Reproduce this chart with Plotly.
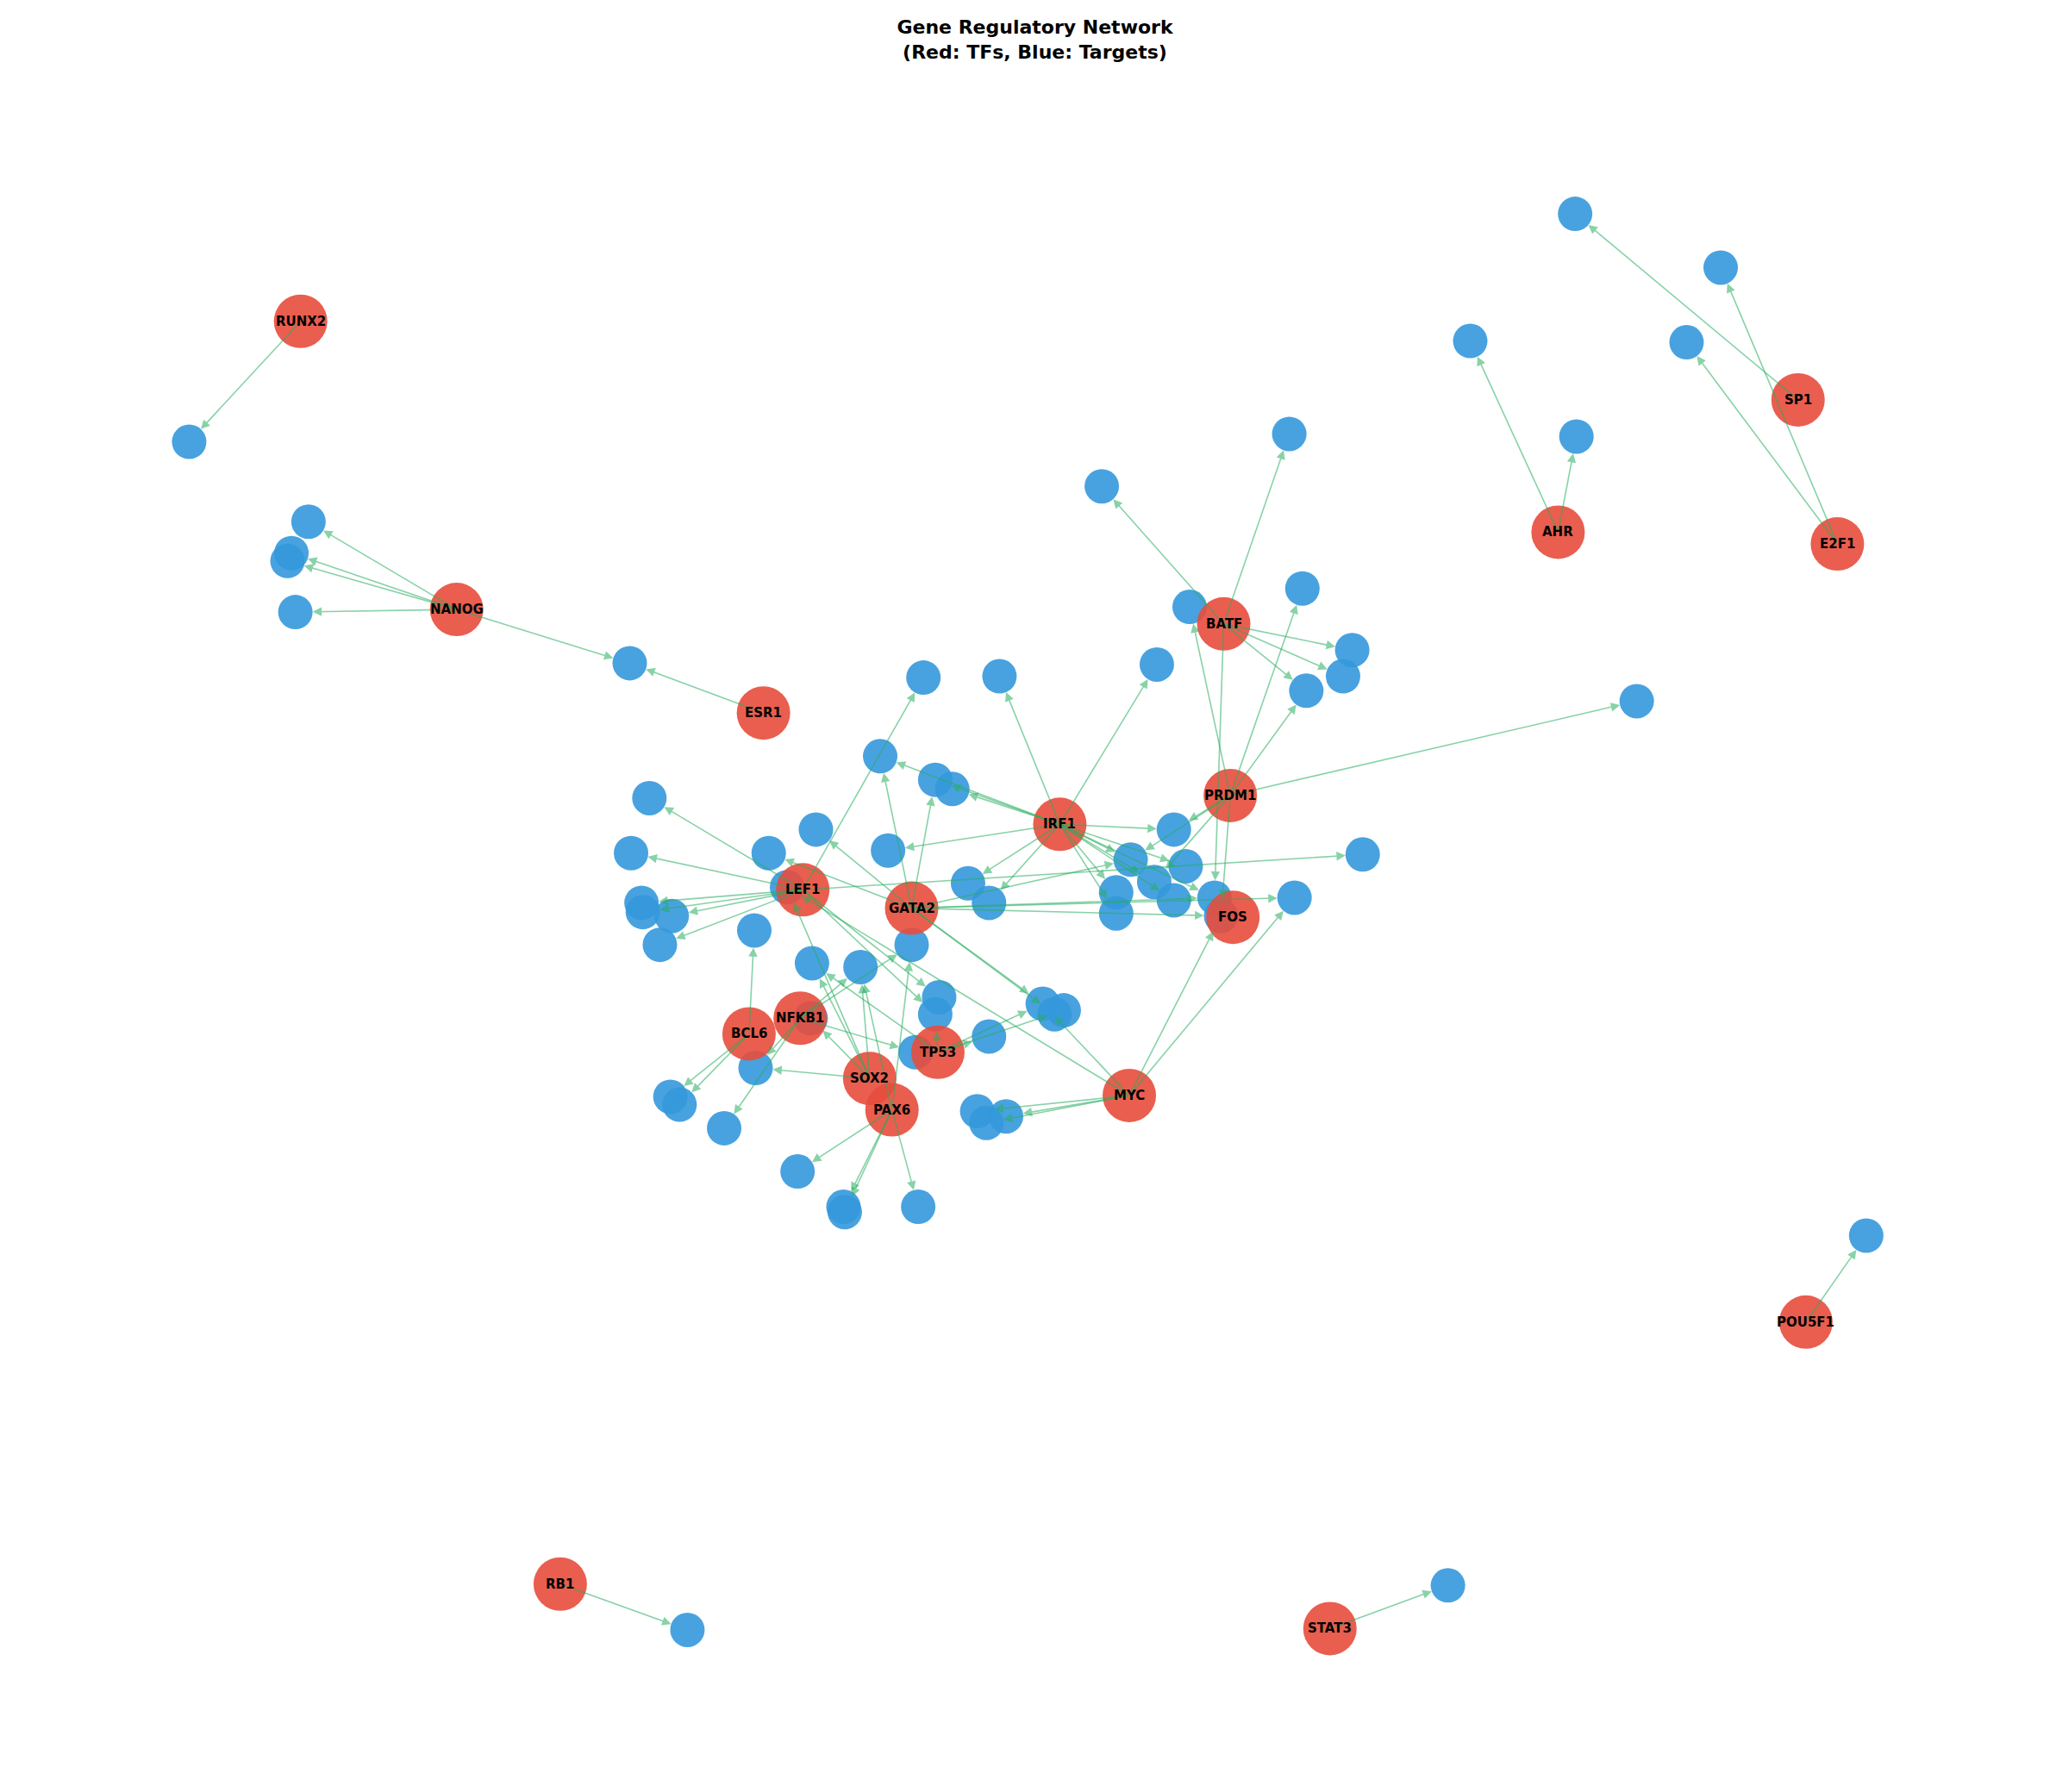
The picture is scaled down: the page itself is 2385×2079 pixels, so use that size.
import plotly.graph_objects as go

tf_names = ["RUNX2","NANOG","ESR1","IRF1","PRDM1","BATF","AHR","SP1","E2F1","LEF1","GATA2",
            "FOS","NFKB1","BCL6","TP53","SOX2","PAX6","MYC","POU5F1","RB1","STAT3"]
tf_x = [229,348,582,808,938,933,1188,1371,1401,612,695,940,610,571,715,663,680,861,1377,427,1014]
tf_y = [244,464,543,628,606,475,405,304,414,678,692,699,776,788,802,822,846,835,1008,1208,1242]

target_x = [144,235,222,219,225,480,1121,1202,1201,1312,1286,840,983,1031,1024,996,907,993,1248,762,
            882,704,671,713,726,495,481,586,622,677,895,862,904,880,895,851,851,926,987,1039,
            738,754,600,489,490,512,503,575,695,656,619,716,713,795,811,804,754,698,618,576,
            511,518,552,608,643,644,700,745,752,767,1423,524,1104,931]
target_y = [336,397,421,427,466,505,259,332,162,203,260,370,330,495,515,526,462,448,534,515,
            506,516,576,594,601,608,650,650,632,648,632,655,660,672,686,680,696,684,684,651,
            673,688,676,688,695,698,720,709,720,737,734,760,773,765,770,773,790,802,776,814,
            836,842,860,893,920,924,920,847,856,851,942,1243,1209,698]

edges = {
    "RUNX2": [0], "NANOG": [1,2,3,4,5], "ESR1": [5], "AHR": [6,7], "SP1": [8],
    "E2F1": [10,9], "BATF": [11,12,13,14,15,37], "PRDM1": [18,17,15,16,30,31,33,73],
    "IRF1": [19,20,22,23,24,29,30,40,41,31,33,34,32,35,37,36],
    "LEF1": [25,26,43,44,45,46,21,39,51,52],
    "GATA2": [27,28,22,23,37,38,73,31,53,55],
    "NFKB1": [49,48,57,62,59], "BCL6": [47,60,61],
    "SOX2": [59,50,49,58,42], "TP53": [50,54,53,52,56],
    "PAX6": [63,64,65,66,48,49], "MYC": [67,68,69,73,38,42,53],
    "POU5F1": [70], "RB1": [71], "STAT3": [72],
}

fig = go.Figure()
ann = []
for src, tl in edges.items():
    i = tf_names.index(src)
    for t in tl:
        ann.append(dict(x=target_x[t], y=target_y[t], ax=tf_x[i], ay=tf_y[i],
                        xref="x", yref="y", axref="x", ayref="y", showarrow=True,
                        arrowhead=2, arrowsize=1.3, arrowwidth=1.6, standoff=20, startstandoff=0,
                        arrowcolor="rgba(39,174,96,0.55)", text=""))
for n, x, y in zip(tf_names, tf_x, tf_y):
    ann.append(dict(x=x, y=y, xref="x", yref="y", showarrow=False, text="<b>%s</b>" % n,
                    font=dict(family="DejaVu Sans", size=15, color="black")))

fig.add_trace(go.Scatter(x=target_x, y=target_y, mode="markers",
                         marker=dict(size=40, color="rgba(52,152,219,0.9)", line=dict(width=0)),
                         hoverinfo="skip", showlegend=False))
fig.add_trace(go.Scatter(x=tf_x, y=tf_y, mode="markers",
                         marker=dict(size=62, color="rgba(231,76,60,0.9)", line=dict(width=0)),
                         hoverinfo="skip", showlegend=False))

fig.update_layout(
    width=2385, height=2079, paper_bgcolor="white", plot_bgcolor="white",
    margin=dict(l=0, r=0, t=0, b=0), annotations=ann,
    title=dict(text="<b>Gene Regulatory Network<br>(Red: TFs, Blue: Targets)</b>",
               x=0.5, y=0.985, xanchor="center", yanchor="top",
               font=dict(family="DejaVu Sans", size=22, color="black")),
    xaxis=dict(range=[5, 1573], visible=False),
    yaxis=dict(range=[1372, 4], visible=False),
)
fig.write_html("out.html")
